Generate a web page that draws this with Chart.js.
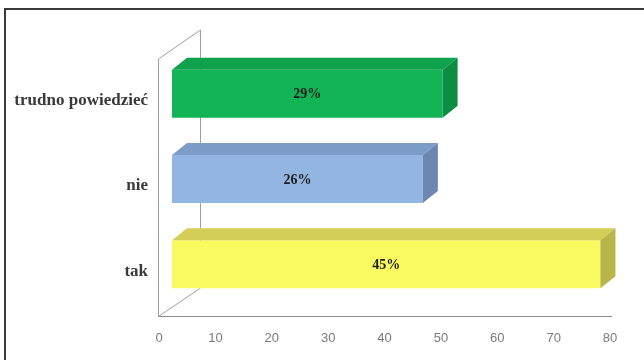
<!DOCTYPE html>
<html><head><meta charset="utf-8">
<script src="https://cdn.jsdelivr.net/npm/chart.js@4"></script>
<style>
html,body{margin:0;padding:0;background:#fff;}
#wrap{position:relative;width:644px;height:360px;overflow:hidden;background:#fff;}
#frame{position:absolute;left:4px;top:8px;width:700px;height:400px;border-top:2px solid #3a3a3a;border-left:2px solid #3a3a3a;}
canvas{position:absolute;left:0;top:0;}
</style></head><body>
<div id="wrap"><div id="frame"></div><canvas id="c" width="644" height="360"></canvas></div>
<script>
const categories = ["trudno powiedzieć", "nie", "tak"];
const values = [48, 44.5, 76];
const percentLabels = ["29%", "26%", "45%"];
const tickValues = [0, 10, 20, 30, 40, 50, 60, 70, 80];
const frontColors = ["#12B456", "#93B5E1", "#F9F960"];
const topColors = ["#0FA24C", "#7E9CC8", "#D2CE58"];
const sideColors = ["#0B8E42", "#6C87B2", "#B9B54A"];

const DEPTH_DX = 15, DEPTH_DY = -12;

const wallPlugin = {
  id: 'wall',
  beforeDatasetsDraw(chart) {
    const ctx = chart.ctx, ca = chart.chartArea;
    const fx = ca.left - 13.5, ft = ca.top + 8, fb = ca.bottom + 9.5;
    const bx = ca.left + 28.5, bt = ca.top - 21, bb = ca.bottom - 19;
    ctx.save();
    ctx.strokeStyle = '#a0a0a0';
    ctx.lineWidth = 1;
    ctx.beginPath();
    ctx.moveTo(fx, fb); ctx.lineTo(fx, ft); ctx.lineTo(bx, bt); ctx.lineTo(bx, bb); ctx.lineTo(fx, fb);
    ctx.stroke();
    ctx.strokeStyle = '#8c8c8c';
    ctx.beginPath();
    ctx.moveTo(fx, fb); ctx.lineTo(ca.right - 11, fb);
    ctx.stroke();
    ctx.restore();
  },
  afterDatasetsDraw(chart) {
    const ctx = chart.ctx;
    const meta = chart.getDatasetMeta(0);
    ctx.save();
    meta.data.forEach((bar, i) => {
      const p = bar.getProps(['x', 'y', 'base', 'height'], true);
      const top = p.y - p.height / 2, bottom = p.y + p.height / 2;
      const left = p.base, right = p.x;
      ctx.fillStyle = topColors[i];
      ctx.beginPath();
      ctx.moveTo(left, top); ctx.lineTo(left + DEPTH_DX, top + DEPTH_DY);
      ctx.lineTo(right + DEPTH_DX, top + DEPTH_DY); ctx.lineTo(right, top);
      ctx.closePath(); ctx.fill();
      ctx.fillStyle = sideColors[i];
      ctx.beginPath();
      ctx.moveTo(right, top); ctx.lineTo(right + DEPTH_DX, top + DEPTH_DY);
      ctx.lineTo(right + DEPTH_DX, bottom + DEPTH_DY); ctx.lineTo(right, bottom);
      ctx.closePath(); ctx.fill();
      ctx.fillStyle = '#1e1e1e';
      ctx.font = 'bold 14px "Liberation Serif"';
      ctx.textAlign = 'center';
      ctx.textBaseline = 'middle';
      ctx.fillText(percentLabels[i], (left + right) / 2, p.y + 1);
    });
    ctx.restore();
  }
};

new Chart(document.getElementById('c'), {
  type: 'bar',
  data: {
    labels: categories,
    datasets: [{
      data: values,
      backgroundColor: frontColors,
      borderWidth: 0,
      barPercentage: 0.5625,
      categoryPercentage: 1
    }]
  },
  options: {
    responsive: false,
    animation: false,
    devicePixelRatio: 1,
    indexAxis: 'y',
    layout: { padding: { top: 51, right: 21, left: 0, bottom: 0 } },
    plugins: { legend: { display: false }, tooltip: { enabled: false } },
    scales: {
      x: {
        min: 0, max: 80,
        afterBuildTicks: ax => { ax.ticks = tickValues.map(v => ({ value: v })); },
        grid: { display: false, drawTicks: false },
        border: { display: false },
        ticks: { labelOffset: -13, padding: 24, color: '#7a7a7a', font: { family: 'Liberation Sans', size: 13 } },
        afterFit: ax => { ax.height = 53; ax.paddingRight = 0; ax.paddingLeft = 0; }
      },
      y: {
        grid: { display: false, drawTicks: false },
        border: { display: false },
        ticks: { padding: 24, labelOffset: 7, color: '#3a3a3a', font: { family: 'Liberation Serif', size: 17, weight: 'bold' } },
        afterFit: ax => { ax.width = 172; ax.paddingTop = 0; ax.paddingBottom = 0; }
      }
    }
  },
  plugins: [wallPlugin]
});
</script>
</body></html>
